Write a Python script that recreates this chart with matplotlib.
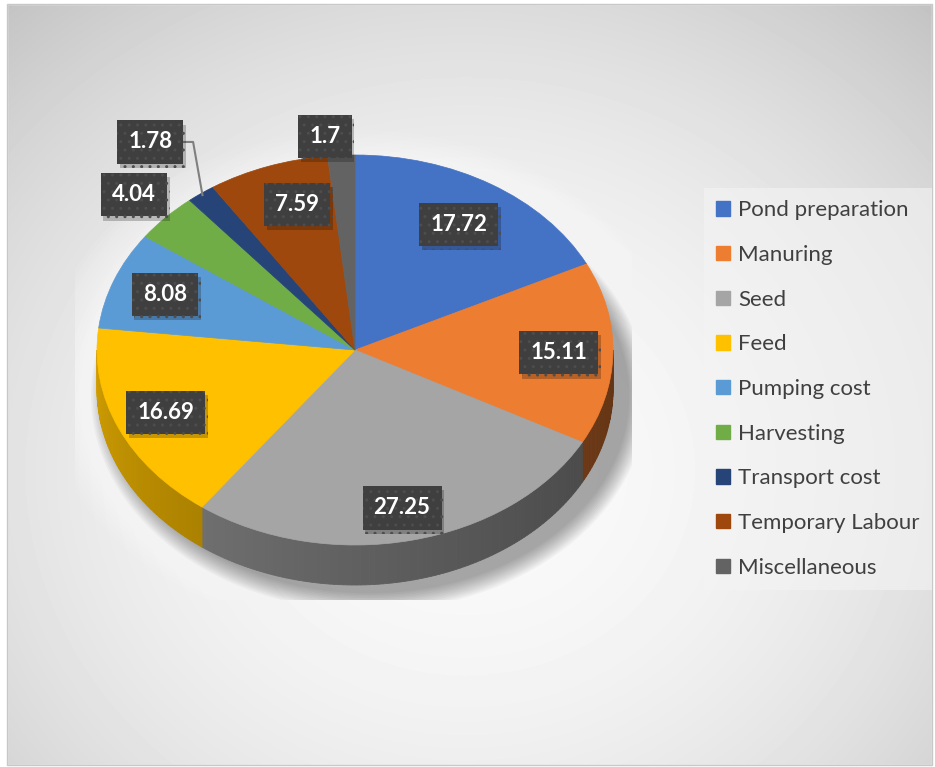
import numpy as np
import matplotlib.pyplot as plt
from matplotlib.patches import Wedge, Polygon, Ellipse, Patch, Rectangle
from matplotlib.transforms import Affine2D
import matplotlib.patheffects as pe
import matplotlib.colors as mcolors

categories = ['Pond preparation', 'Manuring', 'Seed', 'Feed', 'Pumping cost',
              'Harvesting', 'Transport cost', 'Temporary Labour', 'Miscellaneous']
values = [17.72, 15.11, 27.25, 16.69, 8.08, 4.04, 1.78, 7.59, 1.7]
colors = ['#4472C4', '#ED7D31', '#A5A5A5', '#FFC000', '#5B9BD5',
          '#70AD47', '#264478', '#9E480E', '#636363']
# how far out each data label sits (1 = pie rim) and small angle tweaks
label_radius = [0.76, 0.79, 0.83, 0.80, 0.79, 1.17, 1.33, 0.78, 1.10]
label_turn = [0, 0, 0, 0, 0, 0, 0, 3, -3]

W, H = 935, 767
cx, cy, rx, ry, depth = 355, 350, 258, 195, 40
FONT = 'Lato'

fig = plt.figure(figsize=(W / 100, H / 100), dpi=100)
ax = fig.add_axes([0, 0, 1, 1])

# background gradient of the chart area
yy, xx = np.mgrid[0:H, 0:W]
d2 = ((xx - 465) / 470.0) ** 2 + ((yy - 470) / 420.0) ** 2
bg = np.clip(250 - 25 * d2, 0, 255) / 255.0
ax.imshow(bg, cmap='gray', vmin=0, vmax=1, extent=(0, W, H, 0), zorder=0)
ax.set_xlim(0, W)
ax.set_ylim(H, 0)
ax.set_aspect('auto')
ax.axis('off')

# white margin outside the chart border
for r in [(0, 0, 7, H), (0, 0, W, 4), (932, 0, 3, H), (0, 765, W, 2)]:
    ax.add_patch(Rectangle(r[:2], r[2], r[3], color='white', zorder=1))
ax.add_patch(Rectangle((7, 4), 925, 761, fill=False, edgecolor='#c8c8c8', lw=1, zorder=1))

# plot area glow + soft shadow under the pie
clip = Rectangle((75, 110), 557, 490, transform=ax.transData)
for i in range(14):
    e = Ellipse((cx + 5, cy + depth / 2 + 10), 2 * (rx + 60 - 4 * i), 2 * (ry + 55 - 4 * i),
                color='white', alpha=0.08, lw=0, zorder=1)
    ax.add_patch(e)
    e.set_clip_path(clip)
for i in range(12):
    s = 20 - 1.6 * i
    e = Ellipse((cx + 14, cy + depth + 6), 2 * (rx + s), 2 * (ry + s),
                color='black', alpha=0.03, lw=0, zorder=2)
    ax.add_patch(e)
    e.set_clip_path(clip)

frac = np.array(values) / sum(values)
ends = np.cumsum(frac) * 360
starts = ends - frac * 360

# side walls (only the front half is visible)
for s, e, c in zip(starts, ends, colors):
    t1, t2 = max(s - 90, 0), min(e - 90, 180)
    if t2 <= t1:
        continue
    n = int(np.ceil(t2 - t1))
    th = np.linspace(t1, t2, n + 1)
    base = np.array(mcolors.to_rgb(c))
    for a, b in zip(th[:-1], th[1:]):
        m = (a + b) / 2
        f = 0.42 + 0.40 * (m / 180) ** 1.3
        col = np.clip(base * f, 0, 1)
        ra, rb = np.radians(a), np.radians(b)
        pts = [(cx + rx * np.cos(ra), cy + ry * np.sin(ra)),
               (cx + rx * np.cos(rb), cy + ry * np.sin(rb)),
               (cx + rx * np.cos(rb), cy + ry * np.sin(rb) + depth),
               (cx + rx * np.cos(ra), cy + ry * np.sin(ra) + depth)]
        ax.add_patch(Polygon(pts, closed=True, facecolor=col, edgecolor=col, lw=0.6, zorder=3))

# top face, clockwise from 12 o'clock
tr = Affine2D().scale(rx, ry).translate(cx, cy) + ax.transData
for s, e, c in zip(starts, ends, colors):
    ax.add_patch(Wedge((0, 0), 1, s - 90, e - 90, facecolor=c, edgecolor=c,
                       lw=0.5, transform=tr, zorder=4))

# data labels
for s, e, v, r, t in zip(starts, ends, values, label_radius, label_turn):
    mid = np.radians((s + e) / 2 + t)
    lx = cx + rx * r * np.sin(mid)
    ly = cy - ry * r * np.cos(mid)
    if r > 1.25:
        px = cx + rx * 0.99 * np.sin(mid)
        py = cy - ry * 0.99 * np.cos(mid)
        ax.plot([lx + 34, lx + 43, px], [ly, ly, py], color='#7f7f7f', lw=1.5, zorder=5)
    txt = ax.text(lx, ly, f'{v:g}', ha='center', va='center', fontsize=16, fontweight='bold',
                  family=FONT, color='white', zorder=6,
                  bbox=dict(boxstyle='square,pad=0.5', facecolor='#3f3f3f',
                            edgecolor='#4d4d4d', hatch='..', lw=0))
    txt.get_bbox_patch().set_path_effects(
        [pe.SimplePatchShadow(offset=(2, -3), shadow_rgbFace='black', alpha=0.22), pe.Normal()])

handles = [Patch(facecolor=c, edgecolor=c, label=l) for c, l in zip(colors, categories)]
leg = fig.legend(handles=handles, loc='upper left', bbox_to_anchor=(693 / W, 1 - 177 / H),
                 labelcolor='#404040', frameon=True, facecolor='#f4f4f4',
                 edgecolor='none', framealpha=0.6, fancybox=False, handlelength=0.62,
                 handleheight=0.62, handletextpad=0.35, labelspacing=1.11, borderpad=0.55,
                 prop={'family': FONT, 'size': 16})

fig.savefig('out.png', dpi=100)
